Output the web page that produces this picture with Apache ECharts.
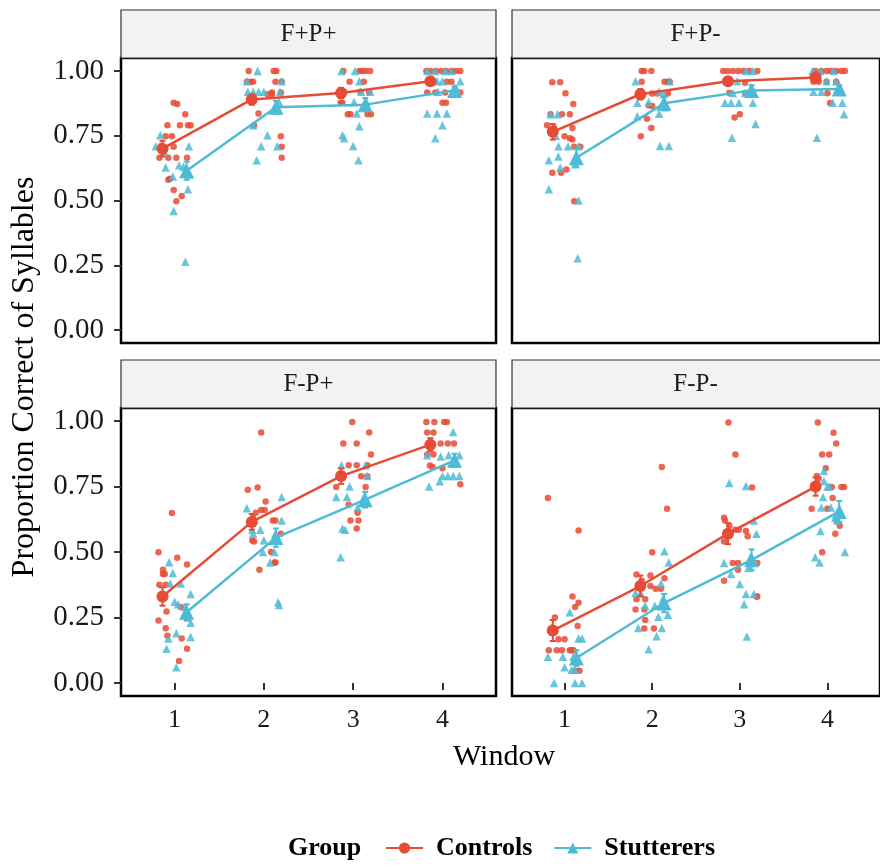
<!DOCTYPE html>
<html><head><meta charset="utf-8">
<script src="https://cdn.jsdelivr.net/npm/echarts@6/dist/echarts.min.js"></script>
<style>html,body{margin:0;padding:0;background:#fff}#c{width:880px;height:867px}</style>
</head><body><div id="c"></div>
<script>
// ---------------- DATA ----------------
const panels = ['F+P+', 'F+P-', 'F-P+', 'F-P-'];
const windowTicks = [1, 2, 3, 4];
const yTicks = [0, 0.25, 0.5, 0.75, 1];
const groups = ['Controls', 'Stutterers'];

// group means per window (1..4)
const ctrlMeansFPP = [0.70, 0.89, 0.915, 0.96];
const ctrlMeansFPM = [0.765, 0.91, 0.96, 0.975];
const ctrlMeansFMP = [0.33, 0.615, 0.79, 0.91];
const ctrlMeansFMM = [0.20, 0.37, 0.57, 0.75];
const stutMeansFPP = [0.615, 0.86, 0.87, 0.925];
const stutMeansFPM = [0.665, 0.875, 0.925, 0.93];
const stutMeansFMP = [0.27, 0.555, 0.70, 0.85];
const stutMeansFMM = [0.095, 0.305, 0.47, 0.655];

// standard errors of means
const ctrlSeFPP = [0.03, 0.02, 0.02, 0.012];
const ctrlSeFPM = [0.03, 0.02, 0.015, 0.012];
const ctrlSeFMP = [0.035, 0.03, 0.03, 0.025];
const ctrlSeFMM = [0.04, 0.04, 0.04, 0.035];
const stutSeFPP = [0.035, 0.025, 0.025, 0.015];
const stutSeFPM = [0.035, 0.025, 0.02, 0.015];
const stutSeFMP = [0.03, 0.035, 0.03, 0.025];
const stutSeFMM = [0.03, 0.035, 0.04, 0.04];

// individual (jittered) observations [window + jitter, proportion]
const ctrlFPP = [
 [0.99,0.877],[1.03,0.872],[1.12,0.833],[0.92,0.79],[1.06,0.79],[1.15,0.79],[1.18,0.79],[0.90,0.748],[0.97,0.748],[0.99,0.707],[0.83,0.665],[0.93,0.665],[1.02,0.665],[1.14,0.665],[0.95,0.584],[0.93,0.58],[0.99,0.541],[1.08,0.517],[1.02,0.497],[0.85,0.71],[0.88,0.69],
 [1.83,1.0],[2.11,1.0],[2.14,1.0],[1.81,0.958],[1.85,0.958],[1.88,0.958],[2.13,0.958],[2.20,0.958],[2.09,0.917],[2.19,0.917],[2.04,0.91],[2.09,0.91],[1.94,0.836],[1.89,0.79],[2.19,0.748],[2.20,0.707],[2.20,0.665],[1.86,0.9],
 [2.89,1.0],[3.07,1.0],[3.10,1.0],[3.14,1.0],[3.19,1.0],[2.96,0.958],[3.12,0.958],[3.18,0.917],[3.08,0.92],[2.86,0.877],[2.88,0.877],[2.94,0.833],[2.97,0.833],[3.16,0.833],[3.20,0.833],[2.90,0.92],
 [3.82,1.0],[3.87,1.0],[3.93,1.0],[3.99,1.0],[4.04,1.0],[4.10,1.0],[4.15,1.0],[4.2,1.0],[3.90,0.958],[4.05,0.958],[4.10,0.958],[3.83,0.917],[3.92,0.917],[4.03,0.917],[4.2,0.917],[4.0,0.877],[4.04,0.877]
];
const stutFPP = [
 [0.84,0.752],[0.79,0.709],[1.16,0.709],[0.90,0.627],[1.05,0.636],[0.98,0.593],[1.15,0.543],[0.99,0.459],[1.12,0.264],[1.13,0.62],[1.16,0.60],[0.88,0.69],[1.10,0.63],
 [1.93,1.0],[1.81,0.96],[2.20,0.96],[1.82,0.92],[1.88,0.92],[1.94,0.92],[2.0,0.92],[2.17,0.88],[1.88,0.79],[2.04,0.752],[1.97,0.709],[2.15,0.709],[1.92,0.655],[2.14,0.87],[2.18,0.92],
 [2.87,1.0],[3.02,1.0],[3.07,0.96],[3.09,0.92],[3.19,0.92],[3.01,0.88],[3.15,0.88],[3.04,0.836],[3.07,0.787],[2.88,0.752],[2.90,0.74],[3.0,0.71],[3.06,0.655],
 [3.83,1.0],[3.92,1.0],[4.03,1.0],[4.10,1.0],[3.94,0.96],[4.0,0.96],[4.2,0.96],[3.95,0.92],[4.12,0.92],[3.83,0.836],[3.94,0.836],[4.05,0.836],[4.0,0.79],[3.92,0.74],[4.16,0.93]
];
const ctrlFPM = [
 [0.86,0.956],[0.95,0.956],[1.01,0.914],[1.10,0.872],[0.84,0.833],[0.97,0.833],[1.06,0.833],[0.80,0.79],[1.09,0.78],[1.0,0.748],[1.06,0.74],[1.09,0.735],[1.11,0.707],[1.18,0.707],[0.86,0.607],[0.96,0.607],[1.02,0.62],[1.11,0.497],[0.88,0.78],
 [1.88,1.0],[1.91,1.0],[1.99,1.0],[1.88,0.958],[2.14,0.958],[2.18,0.958],[2.20,0.958],[2.0,0.913],[2.18,0.913],[1.96,0.868],[2.0,0.865],[1.94,0.816],[1.99,0.78],[1.87,0.748],[2.06,0.913],
 [2.81,1.0],[2.86,1.0],[2.92,1.0],[2.98,1.0],[3.04,1.0],[3.11,1.0],[3.2,1.0],[3.06,0.954],[2.88,0.915],[3.06,0.915],[2.94,0.82],[3.0,0.833],
 [3.86,1.0],[3.93,1.0],[3.99,1.0],[4.04,1.0],[4.10,1.0],[4.16,1.0],[4.20,1.0],[3.84,0.958],[3.90,0.958],[3.99,0.958],[4.10,0.958],[3.87,0.97],[4.0,0.914],[4.03,0.876]
];
const stutFPM = [
 [0.84,0.833],[0.92,0.833],[0.93,0.709],[1.04,0.709],[0.93,0.67],[0.82,0.655],[0.95,0.627],[1.16,0.709],[0.82,0.543],[1.16,0.50],[1.15,0.277],[1.12,0.64],[0.90,0.75],
 [1.81,0.96],[1.83,0.877],[1.96,0.88],[2.08,0.92],[2.13,0.91],[1.83,0.825],[2.08,0.835],[2.09,0.71],[2.19,0.71],[2.20,0.96],[2.15,0.86],
 [3.07,1.0],[3.15,1.0],[2.92,0.915],[3.06,0.915],[2.83,0.877],[2.90,0.877],[2.99,0.877],[3.15,0.877],[3.18,0.795],[2.91,0.742],[3.12,0.93],[2.97,0.96],
 [3.83,1.0],[3.92,1.0],[4.07,1.0],[3.84,0.92],[3.93,0.92],[4.11,0.92],[4.06,0.877],[4.17,0.877],[4.19,0.833],[3.88,0.742],[3.99,0.96],[4.10,0.96],[4.14,0.94]
];
const ctrlFMP = [
 [0.97,0.649],[0.82,0.499],[1.03,0.478],[1.14,0.452],[0.87,0.432],[0.87,0.416],[0.89,0.416],[0.83,0.375],[0.90,0.375],[0.91,0.273],[0.82,0.238],[1.14,0.25],[0.90,0.209],[0.92,0.18],[1.08,0.17],[1.14,0.13],[1.05,0.084],[1.07,0.29],[0.86,0.34],
 [1.97,0.956],[1.82,0.738],[1.93,0.746],[2.02,0.693],[1.91,0.65],[1.97,0.66],[2.01,0.66],[2.10,0.62],[2.13,0.62],[2.19,0.57],[1.87,0.544],[1.89,0.54],[2.08,0.50],[2.12,0.46],[2.13,0.46],[1.95,0.432],[1.88,0.63],
 [2.99,0.997],[3.18,0.956],[2.89,0.914],[3.04,0.914],[3.20,0.872],[2.95,0.831],[3.04,0.831],[3.16,0.831],[3.09,0.789],[3.16,0.789],[2.81,0.748],[3.14,0.748],[2.95,0.68],[3.05,0.65],[2.97,0.62],[3.06,0.62],[3.04,0.59],
 [3.82,0.997],[3.91,0.997],[4.02,0.997],[4.05,0.997],[3.83,0.956],[3.90,0.956],[3.98,0.914],[4.06,0.914],[4.13,0.914],[3.83,0.872],[3.90,0.872],[3.86,0.83],[3.89,0.825],[4.0,0.82],[4.2,0.759]
];
const stutFMP = [
 [0.94,0.461],[0.98,0.42],[1.07,0.38],[0.95,0.38],[1.18,0.34],[1.0,0.31],[1.04,0.30],[1.18,0.23],[1.02,0.19],[1.18,0.175],[0.93,0.17],[0.91,0.13],[1.02,0.06],[1.12,0.29],[1.15,0.25],
 [2.20,0.71],[1.81,0.667],[2.20,0.62],[1.87,0.585],[1.96,0.585],[2.0,0.545],[1.99,0.50],[2.12,0.50],[2.07,0.46],[2.16,0.308],[2.17,0.298],[1.88,0.57],[2.13,0.57],
 [2.87,0.831],[3.14,0.831],[2.96,0.75],[2.81,0.71],[2.93,0.71],[3.05,0.67],[2.88,0.59],[2.91,0.585],[2.86,0.48],[3.16,0.79],[3.12,0.71],
 [4.12,0.958],[4.07,0.87],[4.19,0.87],[3.83,0.87],[3.98,0.865],[4.0,0.79],[4.06,0.79],[4.12,0.79],[4.19,0.79],[3.97,0.77],[3.85,0.75],[4.15,0.84]
];
const ctrlFMM = [
 [0.81,0.706],[1.16,0.582],[1.09,0.33],[1.16,0.306],[1.12,0.29],[0.89,0.25],[1.15,0.217],[0.93,0.167],[1.0,0.167],[0.82,0.125],[0.91,0.125],[0.97,0.125],[1.06,0.125],[1.10,0.125],[1.12,0.046],[1.17,0.046],[0.87,0.21],[1.08,0.125],
 [2.11,0.825],[2.17,0.665],[2.0,0.499],[1.82,0.414],[1.98,0.41],[2.14,0.40],[1.98,0.37],[2.04,0.36],[2.10,0.36],[1.82,0.32],[1.92,0.32],[1.81,0.28],[1.91,0.28],[1.92,0.24],[1.91,0.208],[2.02,0.208],[1.88,0.39],
 [2.87,0.995],[2.95,0.872],[3.14,0.746],[2.82,0.631],[2.83,0.62],[2.95,0.585],[2.99,0.585],[3.07,0.58],[3.09,0.56],[2.82,0.54],[2.92,0.458],[2.98,0.458],[3.2,0.458],[2.98,0.432],[2.82,0.39],[3.2,0.33],[3.19,0.33],[2.88,0.6],
 [3.89,0.995],[4.07,0.955],[4.10,0.914],[3.94,0.872],[4.02,0.872],[3.98,0.82],[3.88,0.79],[3.90,0.78],[4.05,0.748],[4.16,0.748],[4.19,0.748],[4.06,0.706],[3.82,0.665],[4.0,0.665],[4.11,0.62],[4.14,0.60],[4.09,0.57],[3.94,0.499],[3.87,0.76]
];
const stutFMM = [
 [1.06,0.27],[1.16,0.17],[1.20,0.17],[0.81,0.10],[0.98,0.10],[1.08,0.05],[1.12,0.05],[0.88,0.0],[1.12,0.0],[1.20,0.0],[0.85,0.21],[1.1,0.1],[1.0,0.06],
 [2.14,0.503],[2.19,0.46],[2.10,0.38],[1.81,0.343],[1.87,0.343],[2.03,0.295],[1.92,0.295],[2.07,0.253],[2.18,0.26],[1.84,0.21],[2.11,0.21],[2.05,0.178],[1.96,0.129],[2.12,0.32],
 [2.88,0.764],[3.07,0.752],[3.16,0.62],[3.19,0.57],[2.82,0.458],[2.90,0.416],[3.0,0.378],[3.07,0.34],[3.16,0.34],[3.05,0.30],[3.08,0.177],[3.12,0.48],[3.1,0.44],
 [3.96,0.81],[3.96,0.77],[4.0,0.75],[3.95,0.71],[3.93,0.67],[4.04,0.67],[4.09,0.63],[4.11,0.62],[3.92,0.58],[3.86,0.48],[3.91,0.46],[4.2,0.50],[4.14,0.66],[4.02,0.75]
];

// ---------------- STYLE / LAYOUT ----------------
const FONT = 'Liberation Serif';
const COLORS = ['#E64B35', '#4DBBD5'];
const DODGE = [-0.135, 0.135];
const grids = [
  {left: 121, top: 58, width: 375, height: 285},
  {left: 512, top: 58, width: 375, height: 285},
  {left: 121, top: 408, width: 375, height: 288},
  {left: 512, top: 408, width: 375, height: 288}
];
const STRIP_H = 48;

const ctrlMeans = [ctrlMeansFPP, ctrlMeansFPM, ctrlMeansFMP, ctrlMeansFMM];
const stutMeans = [stutMeansFPP, stutMeansFPM, stutMeansFMP, stutMeansFMM];
const ctrlSe = [ctrlSeFPP, ctrlSeFPM, ctrlSeFMP, ctrlSeFMM];
const stutSe = [stutSeFPP, stutSeFPM, stutSeFMP, stutSeFMM];
const ctrlPts = [ctrlFPP, ctrlFPM, ctrlFMP, ctrlFMM];
const stutPts = [stutFPP, stutFPM, stutFMP, stutFMM];

const xAxes = [], yAxes = [], series = [], graphics = [];
panels.forEach((p, i) => {
  const bottomRow = i >= 2, leftCol = i % 2 === 0;
  xAxes.push({
    type: 'value', gridIndex: i, min: 0.4, max: 4.6,
    axisLine: {show: false}, splitLine: {show: false},
    axisTick: {show: bottomRow, length: 7, lineStyle: {color: '#333', width: 2}, customValues: windowTicks},
    axisLabel: {show: bottomRow, customValues: windowTicks, margin: 11, color: '#1a1a1a', fontFamily: FONT, fontSize: 26,
      formatter: v => String(v)}
  });
  yAxes.push({
    type: 'value', gridIndex: i, min: -0.05, max: 1.05,
    axisLine: {show: false}, splitLine: {show: false},
    axisTick: {show: leftCol, length: 7, lineStyle: {color: '#333', width: 2}, customValues: yTicks},
    axisLabel: {show: leftCol, customValues: yTicks, margin: 17, color: '#1a1a1a', fontFamily: FONT, fontSize: 29,
      formatter: v => v.toFixed(2)}
  });
  const g = grids[i];
  graphics.push({type: 'rect', shape: {x: g.left, y: g.top - STRIP_H, width: g.width, height: STRIP_H},
    style: {fill: '#f2f2f2', stroke: '#333', lineWidth: 1.2}, z: 1});
  graphics.push({type: 'text', x: g.left + g.width / 2 - (i % 2 ? 4 : 0), y: g.top - STRIP_H / 2,
    style: {text: p, fill: '#1a1a1a', font: '25px "' + FONT + '"', textAlign: 'center', textVerticalAlign: 'middle'}, z: 2});
});

const meansAll = [ctrlMeans, stutMeans];
const seAll = [ctrlSe, stutSe];
const ptsAll = [ctrlPts, stutPts];
const symbols = ['circle', 'triangle'];

// lines with mean symbols first (legend icon source)
groups.forEach((gname, gi) => {
  panels.forEach((p, i) => {
    series.push({
      type: 'line', name: gname, xAxisIndex: i, yAxisIndex: i,
      data: windowTicks.map((w, k) => [w + DODGE[gi], meansAll[gi][i][k]]),
      symbol: symbols[gi], symbolSize: gi === 0 ? 12 : 15, showSymbol: true,
      lineStyle: {color: COLORS[gi], width: 2.5}, itemStyle: {color: COLORS[gi]},
      z: 5, silent: true, animation: false
    });
  });
});
groups.forEach((gname, gi) => {
  panels.forEach((p, i) => {
    series.push({
      type: 'scatter', name: gname, xAxisIndex: i, yAxisIndex: i,
      data: ptsAll[gi][i], symbol: symbols[gi], symbolSize: gi === 0 ? 6.5 : 8.5,
      itemStyle: {color: COLORS[gi], opacity: 0.85}, z: 3, silent: true, animation: false
    });
    series.push({
      type: 'custom', name: gname, xAxisIndex: i, yAxisIndex: i,
      data: windowTicks.map((w, k) => [w + DODGE[gi], meansAll[gi][i][k], seAll[gi][i][k]]),
      renderItem: (params, api) => {
        const x = api.value(0), y = api.value(1), se = api.value(2);
        const lo = api.coord([x, y - se]), hi = api.coord([x, y + se]);
        const c = COLORS[gi], w = 3;
        const st = {stroke: c, lineWidth: 2};
        return {type: 'group', children: [
          {type: 'line', shape: {x1: lo[0], y1: lo[1], x2: hi[0], y2: hi[1]}, style: st},
          {type: 'line', shape: {x1: lo[0] - w, y1: lo[1], x2: lo[0] + w, y2: lo[1]}, style: st},
          {type: 'line', shape: {x1: hi[0] - w, y1: hi[1], x2: hi[0] + w, y2: hi[1]}, style: st}
        ]};
      },
      z: 4, silent: true, animation: false
    });
  });
});

// axis titles and legend title
graphics.push({type: 'text', x: (grids[0].left + grids[1].left + grids[1].width) / 2, y: 757,
  style: {text: 'Window', fill: '#000', font: '30px "' + FONT + '"', textAlign: 'center', textVerticalAlign: 'middle'}});
graphics.push({type: 'text', x: 25, y: (grids[0].top + grids[2].top + grids[2].height) / 2, rotation: Math.PI / 2,
  style: {text: 'Proportion Correct of Syllables', fill: '#000', font: '32px "' + FONT + '"', textAlign: 'center', textVerticalAlign: 'middle'}});
graphics.push({type: 'text', x: 288, y: 848,
  style: {text: 'Group', fill: '#000', font: 'bold 26px "' + FONT + '"', textAlign: 'left', textVerticalAlign: 'middle'}});

const chart = echarts.init(document.getElementById('c'), null, {renderer: 'canvas'});
chart.setOption({
  animation: false,
  backgroundColor: '#fff',
  grid: grids.map(g => Object.assign({show: true, borderColor: '#000', borderWidth: 2.5, backgroundColor: '#fff', containLabel: false}, g)),
  xAxis: xAxes,
  yAxis: yAxes,
  legend: {
    data: groups, left: 380, top: 830, itemWidth: 37, itemHeight: 14, itemGap: 21,
    selectedMode: false,
    textStyle: {fontFamily: FONT, fontWeight: 'bold', fontSize: 26, color: '#000', padding: [0, 0, 0, 8]}
  },
  graphic: graphics,
  series: series
});
</script>
</body></html>
